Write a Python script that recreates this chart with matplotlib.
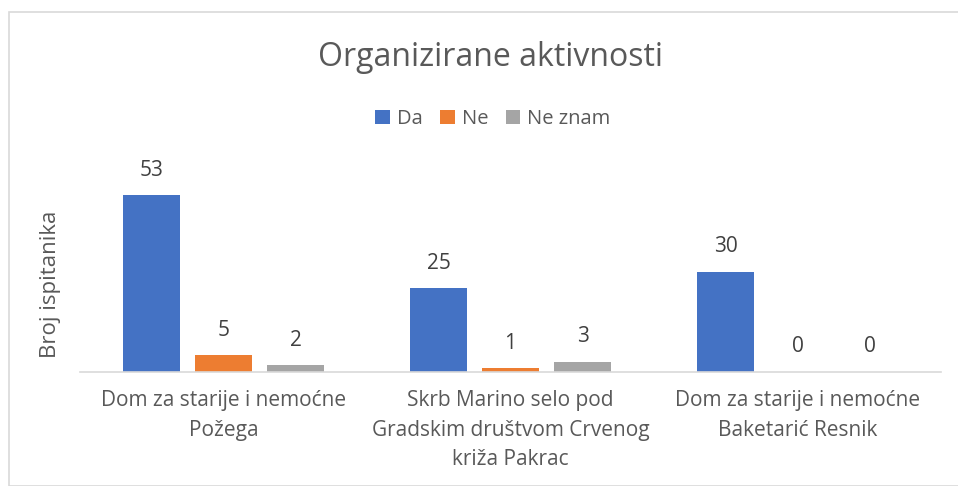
import matplotlib.pyplot as plt
import numpy as np
from matplotlib.patches import Rectangle

categories = ["Dom za starije i nemoćne\nPožega",
              "Skrb Marino selo pod\nGradskim društvom Crvenog\nkriža Pakrac",
              "Dom za starije i nemoćne\nBaketarić Resnik"]
series_names = ["Da", "Ne", "Ne znam"]
da = [53, 25, 30]
ne = [5, 1, 0]
ne_znam = [2, 3, 0]
colors = ["#4472C4", "#ED7D31", "#A5A5A5"]

plt.rcParams['font.family'] = ['Open Sans', 'DejaVu Sans']
txt = "#595959"

W, H = 958, 486
fig = plt.figure(figsize=(W/100, H/100), dpi=100)
fig.patches.append(Rectangle((9/W, 0), 2, (H-12)/H, transform=fig.transFigure,
                             fill=False, edgecolor="#D9D9D9", linewidth=1.2))

ax_l, ax_r = 80, 941
ax_b, ax_t = 371.7, 171.7
ax = fig.add_axes([ax_l/W, 1-ax_b/H, (ax_r-ax_l)/W, (ax_b-ax_t)/H])
ax.set_xlim(-0.5, 2.5)
ax.set_ylim(0, 60)

x = np.arange(len(categories))
bw = 57/287
step = 72/287
for i, (name, vals) in enumerate(zip(series_names, [da, ne, ne_znam])):
    pos = x + (i-1)*step
    ax.bar(pos, vals, width=bw, color=colors[i], label=name)
    for p, v in zip(pos, vals):
        ax.annotate(str(v), (p, v), xytext=(0, 18), textcoords="offset points",
                    ha="center", va="center", fontsize=15, color="#404040")

for s in ["top", "right", "left"]:
    ax.spines[s].set_visible(False)
ax.spines["bottom"].set_color("#D9D9D9")
ax.spines["bottom"].set_linewidth(1.2)
ax.set_yticks([])
ax.set_xticks(x)
ax.set_xticklabels(categories, fontsize=15, color=txt, linespacing=1.55)
ax.tick_params(axis="x", length=0, pad=13)

fig.text(490/W, 1-57/H, "Organizirane aktivnosti", ha="center", va="center",
         fontsize=23, color=txt)
fig.text(51/W, 1-284/H, "Broj ispitanika", ha="center", va="center",
         rotation=90, fontsize=16, color=txt)

leg = fig.legend(loc="center", bbox_to_anchor=(493/W, 1-119/H), ncol=3,
                 frameon=False, fontsize=14.5, handlelength=0.7, handleheight=0.7,
                 handletextpad=0.35, columnspacing=0.9)
for t in leg.get_texts():
    t.set_color(txt)

fig.savefig("out.png", dpi=100)
